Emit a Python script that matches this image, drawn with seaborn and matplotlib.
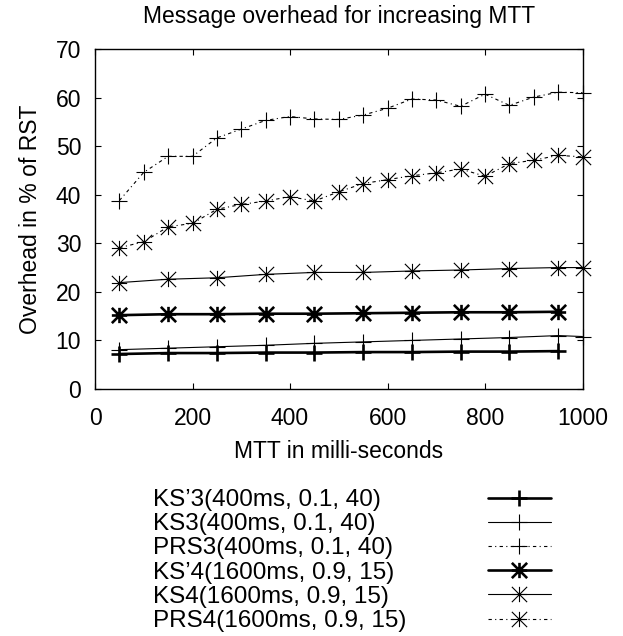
import matplotlib
matplotlib.use('Agg')
import matplotlib.pyplot as plt
from matplotlib.path import Path
from matplotlib.lines import Line2D
import seaborn as sns

# MTT values (ms) for each family of runs
mtt_ks_prime = [50, 150, 250, 350, 450, 550, 650, 750, 850, 950]
mtt_ks = [50, 150, 250, 350, 450, 550, 650, 750, 850, 950, 1000]
mtt_prs = [50, 100, 150, 200, 250, 300, 350, 400, 450, 500,
           550, 600, 650, 700, 750, 800, 850, 900, 950, 1000]

# overhead in % of RST
ks_prime3 = [7.2, 7.4, 7.4, 7.5, 7.5, 7.6, 7.6, 7.7, 7.7, 7.8]
ks3 = [8.1, 8.4, 8.7, 9.0, 9.4, 9.7, 10.0, 10.3, 10.6, 11.0, 10.8]
prs3 = [38.8, 44.6, 47.9, 47.9, 51.7, 53.5, 55.3, 56.1, 55.6, 55.5,
        56.4, 57.8, 59.7, 59.5, 58.2, 60.7, 58.4, 60.1, 61.1, 61.0]
ks_prime4 = [15.2, 15.4, 15.4, 15.5, 15.5, 15.6, 15.7, 15.8, 15.8, 15.9]
ks4 = [21.9, 22.6, 22.9, 23.6, 24.0, 24.0, 24.3, 24.5, 24.8, 25.0, 25.0]
prs4 = [29.1, 30.3, 33.4, 34.1, 37.0, 38.0, 38.7, 39.6, 38.7, 40.6,
        42.3, 43.1, 43.9, 44.5, 45.3, 43.8, 46.4, 47.1, 48.1, 47.8]

labels = ["KS\u20193(400ms, 0.1, 40)", "KS3(400ms, 0.1, 40)", "PRS3(400ms, 0.1, 40)",
          "KS\u20194(1600ms, 0.9, 15)", "KS4(1600ms, 0.9, 15)", "PRS4(1600ms, 0.9, 15)"]

sns.set_theme(style='ticks')
plt.rcParams['font.family'] = ['Liberation Sans', 'DejaVu Sans']
plt.rcParams['font.size'] = 16.5
plt.rcParams['text.color'] = 'black'
plt.rcParams['axes.labelcolor'] = 'black'

# gnuplot style star: a plus and a cross on top of each other
star = Path([(-1, 0), (1, 0), (0, -1), (0, 1), (-1, -1), (1, 1), (-1, 1), (1, -1)],
            [Path.MOVETO, Path.LINETO] * 4)

thick, thin = 1.9, 0.8
dotted = (0, (3, 3, 1, 3))
styles = [
    (mtt_ks_prime, ks_prime3, '+', thick, '-'),
    (mtt_ks, ks3, '+', thin, '-'),
    (mtt_prs, prs3, '+', thin, dotted),
    (mtt_ks_prime, ks_prime4, star, thick, '-'),
    (mtt_ks, ks4, star, thin, '-'),
    (mtt_prs, prs4, star, thin, dotted),
]

fig = plt.figure(figsize=(6.23, 6.36), dpi=100)
ax = fig.add_axes([95 / 623, 1 - 389 / 636, 487.5 / 623, 340 / 636])

handles = []
for (x, y, m, lw, ls), lab in zip(styles, labels):
    sns.lineplot(x=x, y=y, ax=ax, color='black', lw=lw, linestyle=ls,
                 marker=m, markersize=11, markeredgewidth=lw,
                 markeredgecolor='black', markerfacecolor='none', clip_on=False)
    handles.append(Line2D([], [], color='black', lw=lw, linestyle=ls, marker=m,
                          markersize=11, markeredgewidth=lw, markeredgecolor='black',
                          markerfacecolor='none'))

ax.set_xlim(0, 1000)
ax.set_ylim(0, 70)
ax.set_xticks([0, 200, 400, 600, 800, 1000])
ax.set_yticks([0, 10, 20, 30, 40, 50, 60, 70])
for s in ax.spines.values():
    s.set_visible(True)
    s.set_linewidth(1.0)
    s.set_color('black')
ax.tick_params(direction='in', length=4, width=0.8, top=True, right=True,
               labelsize=16.5, colors='black')
ax.tick_params(axis='x', pad=13)
ax.tick_params(axis='y', pad=10)
ax.set_xlabel('MTT in milli-seconds', fontsize=16.5, labelpad=7)
ax.set_ylabel('Overhead in % of RST', fontsize=16.5, labelpad=10)
ax.set_title('Message overhead for increasing MTT', fontsize=16.5, pad=19)

# legend: labels left-aligned, samples aligned on the right
blank = [Line2D([], [], linestyle='none') for _ in labels]
fig.legend(blank, labels, loc='upper left', bbox_to_anchor=(153 / 623, 1 - 489 / 636),
           frameon=False, handlelength=0, handletextpad=0, borderpad=0,
           borderaxespad=0, labelspacing=0.09, fontsize=17.5)
fig.legend(handles, [''] * len(labels), loc='upper right', bbox_to_anchor=(551 / 623, 1 - 489 / 636),
           frameon=False, handlelength=63 / 24.3, handletextpad=0, borderpad=0,
           borderaxespad=0, labelspacing=0.09, fontsize=17.5, numpoints=1)

fig.savefig('out.png', dpi=100)
